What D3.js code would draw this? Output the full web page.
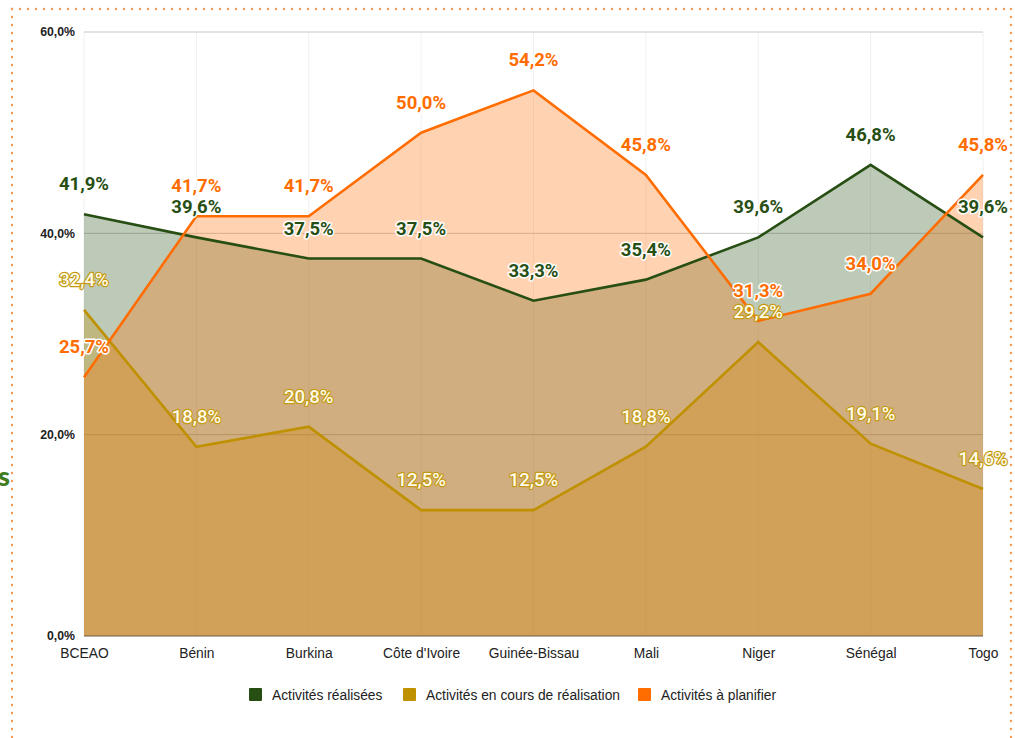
<!DOCTYPE html>
<html><head><meta charset="utf-8">
<script src="https://cdn.jsdelivr.net/npm/d3@7"></script>
<style>
html,body{margin:0;padding:0;background:#fff;}
svg{display:block;}
</style></head>
<body>
<svg id="c" width="1015" height="738"></svg>
<script>
const categories = ["BCEAO","Bénin","Burkina","Côte d'Ivoire","Guinée-Bissau","Mali","Niger","Sénégal","Togo"];
const realisees = [41.9, 39.6, 37.5, 37.5, 33.3, 35.4, 39.6, 46.8, 39.6];
const enCours   = [32.4, 18.8, 20.8, 12.5, 12.5, 18.8, 29.2, 19.1, 14.6];
const aPlanifier= [25.7, 41.7, 41.7, 50.0, 54.2, 45.8, 31.3, 34.0, 45.8];
const yTicks = [0, 20, 40, 60];
const seriesNames = ["Activités réalisées","Activités en cours de réalisation","Activités à planifier"];

const colors = ["#274e13", "#bf9000", "#ff6d01"];

const svg = d3.select("#c");

// dotted border
const border = svg.append("g");
[[12,9,1011,9],[12,9,12,738],[1011,9,1011,738]].forEach(([x1,y1,x2,y2])=>{
  border.append("line").attr("x1",x1).attr("y1",y1).attr("x2",x2).attr("y2",y2)
    .attr("stroke","#f39a58").attr("stroke-width",2.4).attr("stroke-linecap","round")
    .attr("stroke-dasharray","0.1 7.9");
});
svg.append("text").attr("x",10).attr("y",486).attr("text-anchor","end")
  .attr("font-family","Lato, 'Open Sans', sans-serif").attr("font-weight",900)
  .attr("font-size",27).attr("fill","#3f7d20").text("s");

const x = d3.scalePoint().domain(categories).range([84, 983]);
const y = d3.scaleLinear().domain([0, 60]).range([636, 32]);

const loc = d3.formatLocale({decimal:",", thousands:" ", grouping:[3], currency:["","€"]});
const fmtTick = v => loc.format(".1f")(v) + "%";
const fmtLab = v => loc.format(".1f")(v) + "%";

// vertical faint grid
svg.append("g").selectAll("line").data(categories).join("line")
  .attr("x1", d=>x(d)).attr("x2", d=>x(d)).attr("y1", y(60)).attr("y2", y(0))
  .attr("stroke","#f1f1f1").attr("stroke-width",1);

// horizontal grid
svg.append("g").selectAll("line").data(yTicks.filter(v=>v>0)).join("line")
  .attr("x1", 84).attr("x2", 983).attr("y1", d=>y(d)).attr("y2", d=>y(d))
  .attr("stroke","#c8c8c8").attr("stroke-width",1);

const data = [realisees, enCours, aPlanifier];
const area = d3.area().x((d,i)=>x(categories[i])).y0(y(0)).y1(d=>y(d));
const line = d3.line().x((d,i)=>x(categories[i])).y(d=>y(d));

data.forEach((s,k)=>{
  svg.append("path").datum(s).attr("d", area).attr("fill", colors[k]).attr("fill-opacity",0.3);
});
// baseline
svg.append("line").attr("x1",84).attr("x2",983).attr("y1",y(0)).attr("y2",y(0))
  .attr("stroke","#6b5a44").attr("stroke-width",1.2);
data.forEach((s,k)=>{
  svg.append("path").datum(s).attr("d", line).attr("fill","none")
    .attr("stroke", colors[k]).attr("stroke-width",2.6).attr("stroke-linejoin","miter");
});

// y axis
const yAxis = svg.append("g").attr("transform","translate(78,0)")
  .call(d3.axisLeft(y).tickValues(yTicks).tickSize(0).tickFormat(fmtTick));
yAxis.select(".domain").remove();
yAxis.selectAll("text").attr("font-family","'Liberation Sans', Arial, sans-serif")
  .attr("font-weight","bold").attr("font-size",12.3).attr("fill","#222").attr("dx",0);

// x axis
const xAxis = svg.append("g").attr("transform","translate(0,645)")
  .call(d3.axisBottom(x).tickSize(0));
xAxis.select(".domain").remove();
xAxis.selectAll("text").attr("font-family","'Liberation Sans', Arial, sans-serif")
  .attr("font-size",13.8).attr("fill","#222").attr("dy","0.71em");

// labels
const labG = svg.append("g");
data.forEach((s,k)=>{
  labG.selectAll(null).data(s).join("text")
    .attr("x",(d,i)=>x(categories[i]))
    .attr("y",d=>y(d)-24)
    .attr("text-anchor","middle")
    .attr("font-family","Roboto, sans-serif")
    .attr("font-size",18.5)
    .attr("font-weight", k===1 ? 500 : 700)
    .attr("fill", k===1 ? "#fffbea" : colors[k])
    .attr("stroke", k===1 ? "#c39a12" : "#fff")
    .attr("stroke-width", k===1 ? 2.4 : 3)
    .attr("paint-order", "stroke")
    .attr("stroke-linejoin","round")
    .text(d=>fmtLab(d));
});

// legend
const legX = [249, 403, 638];
const lg = svg.append("g");
seriesNames.forEach((n,k)=>{
  lg.append("rect").attr("x",legX[k]).attr("y",688).attr("width",13).attr("height",13)
    .attr("rx",1).attr("fill",colors[k]);
  lg.append("text").attr("x",legX[k]+23).attr("y",700)
    .attr("font-family","'Liberation Sans', Arial, sans-serif").attr("font-size",13.8)
    .attr("fill","#222").text(n);
});
</script>
</body></html>
